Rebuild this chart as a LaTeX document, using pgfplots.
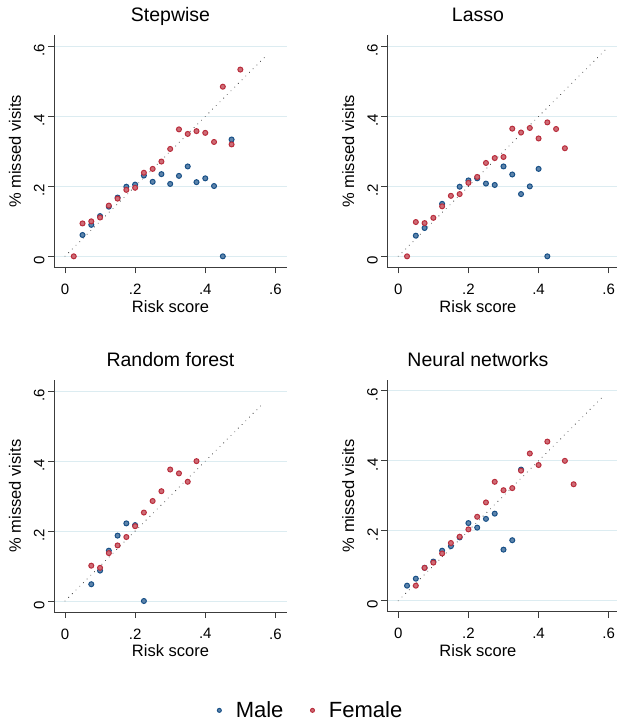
\documentclass[border=0pt]{standalone}
\usepackage{fontspec}
\setmainfont{Liberation Sans}
\usepackage{pgfplots}
\pgfplotsset{compat=1.18}

\definecolor{male}{RGB}{24,80,135}
\definecolor{female}{RGB}{185,45,60}
\definecolor{gridc}{RGB}{220,236,241}
\definecolor{spine}{RGB}{60,60,60}

\pgfplotsset{
  panel/.style={
    scale only axis, width=233pt, height=232pt,
    xmin=-0.0313, xmax=0.633, ymin=-0.0314, ymax=0.632,
    axis x line*=bottom, axis y line*=left,
    axis line style={spine, line width=0.8pt},
    xtick={0,0.2,0.4,0.6}, xticklabels={0,.2,.4,.6},
    ytick={0,0.2,0.4,0.6}, yticklabels={0,.2,.4,.6},
    tick align=outside, major tick length=6pt,
    tick style={spine, line width=0.8pt},
    ymajorgrids, grid style={gridc, line width=0.8pt},
    ticklabel style={font=\fontsize{15}{18}\selectfont},
    xticklabel style={yshift=-7pt},
    yticklabel style={rotate=90, anchor=south, xshift=-4pt},
    label style={font=\fontsize{16.5}{20}\selectfont},
    title style={font=\fontsize{19.5}{23}\selectfont, at={(axis description cs:0.5,1)}, anchor=base, yshift=7.5pt},
    xlabel={Risk score}, ylabel={\% missed visits},
    xlabel style={at={(axis description cs:0.5,-0.193)}, anchor=base},
    ylabel style={at={(axis description cs:-0.168,0.5)}, anchor=center},
    clip=false,
  },
  rightpanel/.style={
    title style={at={(axis description cs:0.389,1)}},
    xlabel style={at={(axis description cs:0.389,-0.193)}},
  },
  diag/.style={gray!70!black, line width=1.2pt, dash pattern=on 0.01pt off 5.2pt, line cap=round, forget plot},
  malepts/.style={only marks, mark=*, mark size=2.5pt, mark options={draw=male, fill=male!70!white, line width=1pt}},
  femalepts/.style={only marks, mark=*, mark size=2.5pt, mark options={draw=female, fill=female!70!white, line width=1pt}},
}

\begin{document}
\begin{tikzpicture}
\useasboundingbox (0,0) rectangle (617pt,721pt);

% Stepwise
\begin{axis}[panel, at={(54pt,453.7pt)}, anchor=south west, title={Stepwise}]
\addplot[diag] coordinates {(0,0) (0.573,0.573)};
\addplot[malepts] coordinates {(0.05,0.061)(0.075,0.090)(0.1,0.115)(0.125,0.142)(0.15,0.168)(0.175,0.199)(0.2,0.205)(0.225,0.231)(0.25,0.213)(0.275,0.235)(0.3,0.207)(0.325,0.230)(0.35,0.257)(0.375,0.212)(0.4,0.223)(0.425,0.201)(0.45,0)(0.475,0.334)};
\addplot[femalepts] coordinates {(0.025,0)(0.05,0.094)(0.075,0.100)(0.1,0.111)(0.125,0.145)(0.15,0.165)(0.175,0.190)(0.2,0.196)(0.225,0.239)(0.25,0.250)(0.275,0.271)(0.3,0.307)(0.325,0.363)(0.35,0.350)(0.375,0.358)(0.4,0.353)(0.425,0.327)(0.45,0.485)(0.475,0.320)(0.5,0.534)};
\end{axis}

% Lasso
\begin{axis}[panel, rightpanel, at={(387.3pt,453.7pt)}, anchor=south west, title={Lasso}]
\addplot[diag] coordinates {(0,0) (0.594,0.594)};
\addplot[malepts] coordinates {(0.05,0.059)(0.075,0.081)(0.125,0.150)(0.175,0.199)(0.2,0.217)(0.225,0.223)(0.25,0.208)(0.275,0.204)(0.3,0.257)(0.325,0.234)(0.35,0.178)(0.375,0.200)(0.4,0.250)(0.425,0)};
\addplot[femalepts] coordinates {(0.025,0)(0.05,0.098)(0.075,0.095)(0.1,0.110)(0.125,0.143)(0.15,0.173)(0.175,0.178)(0.2,0.210)(0.225,0.227)(0.25,0.267)(0.275,0.281)(0.3,0.284)(0.325,0.365)(0.35,0.354)(0.375,0.367)(0.4,0.337)(0.425,0.383)(0.45,0.364)(0.475,0.309)};
\end{axis}

% Random forest (carries the legend)
\begin{axis}[panel, at={(54pt,109pt)}, anchor=south west, title={Random forest},
  legend columns=2,
  legend style={draw=none, fill=none, font=\fontsize{22}{26}\selectfont,
    at={(axis description cs:1.10,-0.424)}, anchor=center,
    /tikz/every even column/.append style={column sep=24pt}},
  legend image code/.code={\draw[#1, mark size=2pt] plot coordinates {(0cm,0cm)}; \path (-0.1cm,0cm) (0.5cm,0cm);}]
\addplot[diag] coordinates {(0,0) (0.564,0.564)};
\addplot[malepts] coordinates {(0.075,0.048)(0.1,0.087)(0.125,0.144)(0.15,0.187)(0.175,0.222)(0.2,0.217)(0.225,0)};
\addlegendentry{Male}
\addplot[femalepts] coordinates {(0.075,0.101)(0.1,0.095)(0.125,0.137)(0.15,0.159)(0.175,0.183)(0.2,0.214)(0.225,0.253)(0.25,0.286)(0.275,0.314)(0.3,0.376)(0.325,0.365)(0.35,0.341)(0.375,0.400)};
\addlegendentry{Female}
\end{axis}

% Neural networks
\begin{axis}[panel, rightpanel, at={(387.3pt,109.3pt)}, anchor=south west, title={Neural networks}]
\addplot[diag] coordinates {(0,0) (0.587,0.587)};
\addplot[malepts] coordinates {(0.025,0.043)(0.05,0.063)(0.075,0.094)(0.1,0.112)(0.125,0.143)(0.15,0.156)(0.175,0.181)(0.2,0.222)(0.225,0.209)(0.25,0.234)(0.275,0.249)(0.3,0.146)(0.325,0.173)(0.35,0.375)};
\addplot[femalepts] coordinates {(0.05,0.043)(0.075,0.094)(0.1,0.109)(0.125,0.135)(0.15,0.165)(0.175,0.183)(0.2,0.204)(0.225,0.240)(0.25,0.281)(0.275,0.340)(0.3,0.316)(0.325,0.322)(0.35,0.372)(0.375,0.421)(0.4,0.388)(0.425,0.455)(0.475,0.400)(0.5,0.333)};
\end{axis}
\end{tikzpicture}
\end{document}
